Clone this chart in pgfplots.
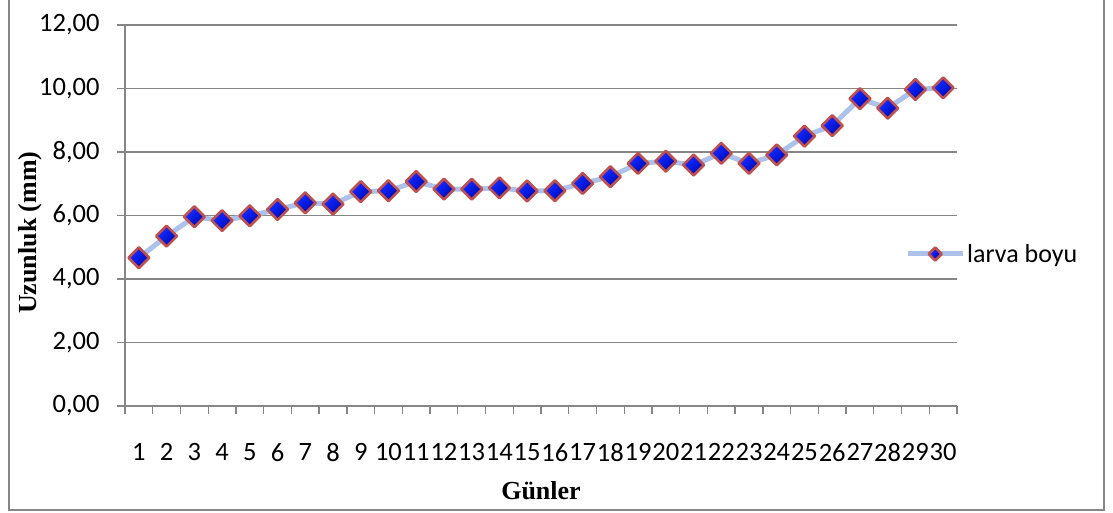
\documentclass[border=0pt]{standalone}
\usepackage{pgfplots}
\pgfplotsset{compat=1.18}
\usepackage{fontspec}
\setmainfont{Carlito}
\newfontfamily\timesfont{Liberation Serif}
\definecolor{gridgray}{RGB}{134,134,134}
\definecolor{bordergray}{RGB}{134,134,134}
\definecolor{linecol}{RGB}{172,194,234}
\definecolor{mkedge}{RGB}{192,80,77}
\definecolor{mkA}{RGB}{70,95,215}
\definecolor{mkB}{RGB}{15,35,245}
\definecolor{mkC}{RGB}{0,20,205}
\definecolor{mkD}{RGB}{0,0,90}
\pgfdeclarehorizontalshading{mkshade}{100bp}{color(0bp)=(mkA); color(38bp)=(mkB); color(60bp)=(mkC); color(100bp)=(mkD)}
\pgfdeclareplotmark{sdiamond}{%
  \pgfpathmoveto{\pgfqpoint{0pt}{\pgfplotmarksize}}%
  \pgfpathlineto{\pgfqpoint{\pgfplotmarksize}{0pt}}%
  \pgfpathlineto{\pgfqpoint{0pt}{-\pgfplotmarksize}}%
  \pgfpathlineto{\pgfqpoint{-\pgfplotmarksize}{0pt}}%
  \pgfpathclose
  \pgfshadepath{mkshade}{-45}%
  \pgfusepathqstroke
}
\pgfplotstableread{
x y
1 4.67
2 5.35
3 5.96
4 5.84
5 5.99
6 6.19
7 6.40
8 6.36
9 6.75
10 6.78
11 7.07
12 6.83
13 6.83
14 6.87
15 6.77
16 6.78
17 7.01
18 7.22
19 7.64
20 7.71
21 7.59
22 7.96
23 7.64
24 7.91
25 8.50
26 8.83
27 9.68
28 9.38
29 9.97
30 10.02
}\larva
\newcommand{\cf}{\fontsize{26.5bp}{31bp}\selectfont}
\begin{document}
\begin{tikzpicture}
\path[use as bounding box] (0,0) rectangle (1113bp,513bp);
\draw[bordergray, line width=2.5bp] (9bp,514bp) -- (9bp,3bp) -- (1104bp,3bp) -- (1104bp,514bp);
\begin{axis}[
  at={(125bp,107bp)}, anchor=south west,
  width=832bp, height=381bp, scale only axis,
  xmin=0.5, xmax=30.5, ymin=0, ymax=12,
  axis lines=left,
  axis line style={-, draw=gridgray, line width=1.3bp},
  tick align=outside,
  major tick length=8bp,
  tick style={draw=gridgray, line width=1.3bp},
  xtick={0.5,1.5,...,30.5},
  x tick label as interval,
  xticklabels={1,2,3,4,5,6,7,8,9,10,11,12,13,14,15,16,17,18,19,20,21,22,23,24,25,26,27,28,29,30},
  ytick={0,2,...,12},
  ymajorgrids,
  grid style={draw=gridgray, line width=1.3bp},
  /pgf/number format/assume math mode=true,
  tick label style={font=\cf},
  xticklabel style={yshift=-26bp},
  yticklabel style={xshift=-14bp, /pgf/number format/.cd, fixed, fixed zerofill, precision=2, use comma},
  xlabel={\timesfont\bfseries Günler},
  ylabel={\timesfont\bfseries Uzunluk (mm)},
  label style={font=\fontsize{26bp}{31bp}\selectfont},
  xlabel style={at={(axis description cs:0.5,-0.223)}, anchor=center},
  ylabel style={at={(axis description cs:-0.114,0.455)}, anchor=center},
  legend style={at={(axis description cs:0.9375,0.399)}, anchor=west, draw=none, fill=none, font=\fontsize{26bp}{31bp}\selectfont, inner sep=0pt},
  legend cell align=left,
  legend image code/.code={\draw[mark repeat=2,mark phase=2,#1,mark size=6.5bp] plot coordinates {(0bp,0bp) (27.5bp,0bp) (55bp,0bp)};},
  clip=false,
]
\addplot[color=linecol, line width=5bp, line join=round, mark=sdiamond, mark size=10.4bp, mark options={draw=mkedge, line width=2.6bp, solid}] table[x=x,y=y] {\larva};
\addlegendentry{larva boyu}
\end{axis}
\end{tikzpicture}
\end{document}
